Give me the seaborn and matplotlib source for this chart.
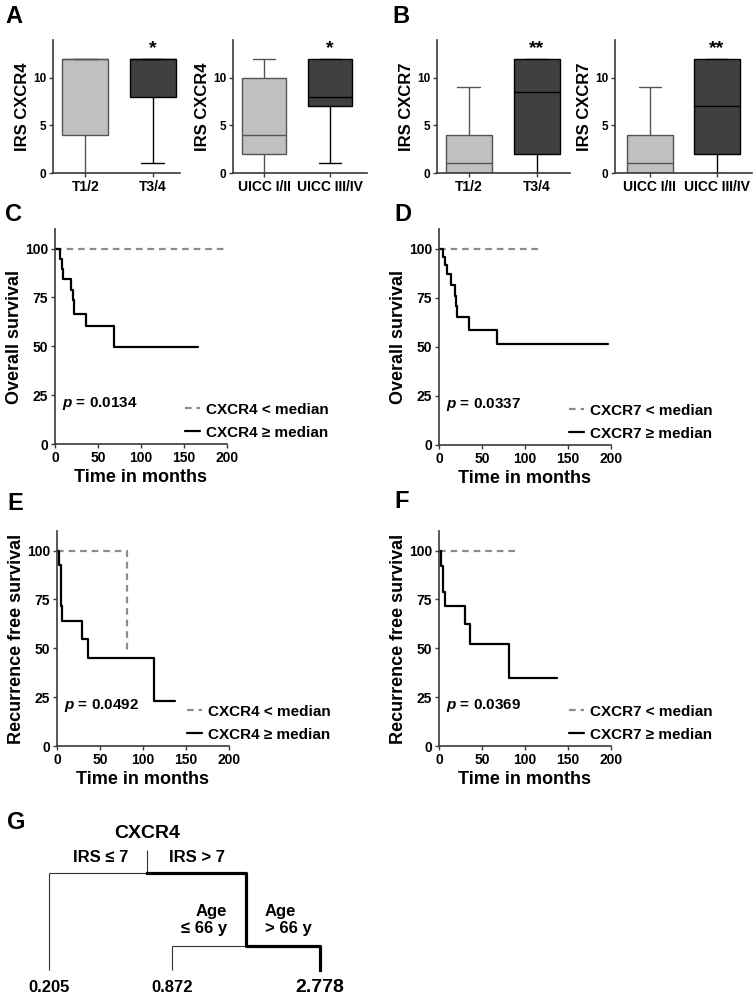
import numpy as np
import pandas as pd
import seaborn as sns
import matplotlib.pyplot as plt
from matplotlib.lines import Line2D

sns.set_style('ticks')
plt.rcParams['font.family'] = ['Liberation Sans', 'DejaVu Sans']
plt.rcParams['font.weight'] = 'bold'
plt.rcParams['axes.labelweight'] = 'bold'
plt.rcParams['text.color'] = 'black'
plt.rcParams['axes.labelcolor'] = 'black'
plt.rcParams['xtick.color'] = 'black'
plt.rcParams['ytick.color'] = 'black'
plt.rcParams['mathtext.fontset'] = 'custom'
plt.rcParams['mathtext.it'] = 'Liberation Sans:italic:bold'
plt.rcParams['mathtext.rm'] = 'Liberation Sans:bold'

# ---- box plot data: five-number summaries [min, q1, median, q3, max]
t_groups = ['T1/2', 'T3/4']
uicc_groups = ['UICC I/II', 'UICC III/IV']
cxcr4_t = [[0, 4, 12, 12, 12], [1, 8, 12, 12, 12]]
cxcr4_uicc = [[0, 2, 4, 10, 12], [1, 7, 8, 12, 12]]
cxcr7_t = [[0, 0, 1, 4, 9], [0, 2, 8.5, 12, 12]]
cxcr7_uicc = [[0, 0, 1, 4, 9], [0, 2, 7, 12, 12]]

# ---- Kaplan-Meier step data (time in months, survival %)
c_low_t = [0, 198]
c_low_s = [100, 100]
c_high_t = [0, 5.8, 7.8, 9.7, 18.6, 20.6, 22.1, 36.1, 69.1, 166]
c_high_s = [100, 94.9, 89.5, 84.2, 78.7, 73.6, 66.3, 60.4, 49.8, 49.8]

d_low_t = [0, 120]
d_low_s = [100, 100]
d_high_t = [0, 4.7, 7.4, 9.7, 14.4, 18.3, 20.2, 21.4, 35, 68, 197]
d_high_s = [100, 95.9, 91.7, 86.9, 81.3, 75.8, 70.7, 65.1, 58.4, 51.4, 51.4]

e_low_t = [0, 81]
e_low_s = [100, 48.9]
e_high_t = [0, 1.9, 4.3, 6.2, 29.6, 35.5, 113, 136.8]
e_high_s = [100, 92.8, 71.5, 64.2, 54.8, 45.1, 23, 23]

f_low_t = [0, 90]
f_low_s = [100, 100]
f_high_t = [0, 1.9, 4.7, 6.6, 29.9, 35.7, 81.2, 136.7]
f_high_s = [100, 92.3, 78.7, 71.4, 62.5, 52.1, 34.7, 34.7]

# ---- regression tree
tree_root = 'CXCR4'
tree_splits = ['IRS ≤ 7', 'IRS > 7', 'Age\n≤ 66 y', 'Age\n> 66 y']
tree_leaf_hr = [0.205, 0.872, 2.778]

W, H = 753, 997
fig = plt.figure(figsize=(W / 100, H / 100), dpi=100)


def px_axes(left, top, right, bottom):
    return fig.add_axes([left / W, 1 - bottom / H, (right - left) / W, (bottom - top) / H])


spine_col = '#3a3a3a'
light_fill, dark_fill = '#c0c0c0', '#404040'
light_line, dark_line = '#555555', '#000000'


def style_axes(ax, xsize, ysize):
    sns.despine(ax=ax)
    for s in ['left', 'bottom']:
        ax.spines[s].set_color(spine_col)
        ax.spines[s].set_linewidth(1.2)
    ax.tick_params(axis='both', length=3, width=1, color=spine_col, pad=2)
    ax.tick_params(axis='x', labelsize=xsize)
    ax.tick_params(axis='y', labelsize=ysize)


def draw_box(ax, groups, summaries, stars, ylabel, xlim):
    fills = [light_fill, dark_fill]
    lines = [light_line, dark_line]
    for i, (g, s) in enumerate(zip(groups, summaries)):
        df = pd.DataFrame({'group': [g] * len(s), 'irs': s})
        sns.boxplot(data=df, x='group', y='irs', order=groups, color=fills[i],
                    linecolor=lines[i], linewidth=1, width=0.68, whis=(0, 100),
                    saturation=1, ax=ax)
    ax.text(1, 12.6, stars, ha='center', va='baseline', fontsize=14, fontweight='bold')
    ax.set_xlim(*xlim)
    ax.set_ylim(0, 14)
    ax.set_yticks([0, 5, 10])
    ax.set_xlabel('')
    ax.set_ylabel(ylabel, fontsize=12, labelpad=2)
    style_axes(ax, 10, 8.5)


def draw_km(ax, low_t, low_s, high_t, high_s, marker, ylabel, pval):
    sns.lineplot(x=low_t, y=low_s, drawstyle='steps-post', color='#8c8c8c',
                 linestyle=(0, (3, 2.2)), linewidth=1.6, estimator=None, sort=False, ax=ax)
    sns.lineplot(x=high_t, y=high_s, drawstyle='steps-post', color='black',
                 linewidth=1.6, estimator=None, sort=False, ax=ax)
    ax.set_xlim(0, 200)
    ax.set_ylim(0, 110)
    ax.set_xticks([0, 50, 100, 150, 200])
    ax.set_yticks([0, 25, 50, 75, 100])
    ax.set_xlabel('Time in months', fontsize=13, labelpad=3)
    ax.set_ylabel(ylabel, fontsize=13, labelpad=1)
    style_axes(ax, 10, 10)
    ax.text(0.04, 0.187, r'$p$ = ' + pval, transform=ax.transAxes, fontsize=11,
            fontweight='bold', va='center', ha='left')
    handles = [Line2D([], [], color='#8c8c8c', lw=1.6, linestyle=(0, (3, 2.2))),
               Line2D([], [], color='black', lw=1.6)]
    ax.legend(handles, [marker + ' < median', marker + ' ≥ median'], loc='lower left',
              bbox_to_anchor=(0.755, 0.02), frameon=False, borderpad=0,
              handlelength=1.0, handletextpad=0.4, labelspacing=0.6,
              borderaxespad=0, prop={'weight': 'bold', 'size': 11})


# panel A and B: box plots
ax_a1 = px_axes(53, 40, 180, 173)
draw_box(ax_a1, t_groups, cxcr4_t, '*', 'IRS CXCR4', (-0.48, 1.4))
ax_a2 = px_axes(233, 40, 367, 173)
draw_box(ax_a2, uicc_groups, cxcr4_uicc, '*', 'IRS CXCR4', (-0.47, 1.56))
ax_b1 = px_axes(437, 40, 570, 173)
draw_box(ax_b1, t_groups, cxcr7_t, '**', 'IRS CXCR7', (-0.47, 1.49))
ax_b2 = px_axes(615, 40, 752, 173)
draw_box(ax_b2, uicc_groups, cxcr7_uicc, '**', 'IRS CXCR7', (-0.52, 1.52))

# panels C-F: survival curves
ax_c = px_axes(55, 229, 227, 444)
draw_km(ax_c, c_low_t, c_low_s, c_high_t, c_high_s, 'CXCR4', 'Overall survival', '0.0134')
ax_d = px_axes(439, 229, 611, 445)
draw_km(ax_d, d_low_t, d_low_s, d_high_t, d_high_s, 'CXCR7', 'Overall survival', '0.0337')
ax_e = px_axes(57, 531, 229, 746)
draw_km(ax_e, e_low_t, e_low_s, e_high_t, e_high_s, 'CXCR4', 'Recurrence free survival', '0.0492')
ax_f = px_axes(439, 531, 611, 746)
draw_km(ax_f, f_low_t, f_low_s, f_high_t, f_high_s, 'CXCR7', 'Recurrence free survival', '0.0369')

# panel G: regression tree drawn in pixel space
ax_g = px_axes(0, 800, W, H)
ax_g.set_xlim(0, W)
ax_g.set_ylim(H, 800)
ax_g.axis('off')
leaf_x = [49, 172, 320]
y_top, y_split1, y_split2, y_leaf = 850, 873, 946, 970
node2_x = (leaf_x[1] + leaf_x[2]) / 2
root_x = (leaf_x[0] + node2_x) / 2
thin = dict(color='#333333', lw=0.8, solid_capstyle='butt')
thick = dict(color='black', lw=2.3, solid_capstyle='projecting')
ax_g.plot([root_x, root_x], [y_top, y_split1], **thin)
ax_g.plot([leaf_x[0], root_x], [y_split1, y_split1], **thin)
ax_g.plot([leaf_x[0], leaf_x[0]], [y_split1, y_leaf], **thin)
ax_g.plot([leaf_x[1], node2_x], [y_split2, y_split2], **thin)
ax_g.plot([leaf_x[1], leaf_x[1]], [y_split2, y_leaf], **thin)
ax_g.plot([root_x, node2_x, node2_x, leaf_x[2], leaf_x[2]],
          [y_split1, y_split1, y_split2, y_split2, y_leaf], **thick)
ax_g.text(root_x, 834, tree_root, ha='center', va='center', fontsize=14, fontweight='bold')
ax_g.text((leaf_x[0] + root_x) / 2 + 2, 858, tree_splits[0], ha='center', va='center', fontsize=12)
ax_g.text((root_x + node2_x) / 2, 858, tree_splits[1], ha='center', va='center', fontsize=12)
ax_g.text(node2_x - 19, 920, tree_splits[2], ha='right', va='center', fontsize=12,
          multialignment='right', linespacing=1.15)
ax_g.text(node2_x + 19, 920, tree_splits[3], ha='left', va='center', fontsize=12,
          multialignment='left', linespacing=1.15)
hr_max = max(tree_leaf_hr)
for x, hr in zip(leaf_x, tree_leaf_hr):
    ax_g.text(x, 987, f'{hr:.3f}', ha='center', va='center',
              fontsize=14 if hr == hr_max else 12, fontweight='bold')

# panel letters
for letter, x, y in [('A', 5, 5), ('B', 392, 5), ('C', 5, 203), ('D', 394, 203),
                     ('E', 7, 492), ('F', 394, 490), ('G', 7, 811)]:
    fig.text(x / W, 1 - y / H, letter, fontsize=17, fontweight='bold', va='top', ha='left')

fig.savefig('out.png', dpi=100)
